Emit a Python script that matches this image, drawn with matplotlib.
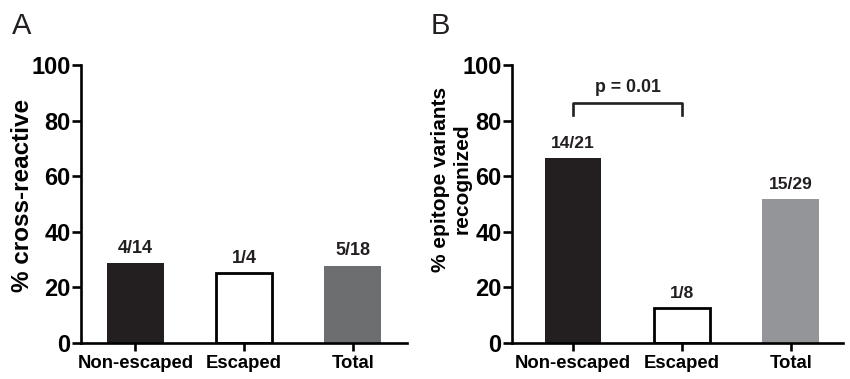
import numpy as np
import matplotlib.pyplot as plt

# ===== data =====
categories = ["Non-escaped", "Escaped", "Total"]

a_values = [28.6, 25.0, 27.8]
a_labels = ["4/14", "1/4", "5/18"]

b_values = [66.7, 12.5, 51.7]
b_labels = ["14/21", "1/8", "15/29"]

yticks = [0, 20, 40, 60, 80, 100]

plt.rcParams.update({
    "font.family": ["Liberation Sans", "DejaVu Sans"],
    "font.weight": "bold",
    "axes.linewidth": 1.9,
})

fig = plt.figure(figsize=(8.5, 3.79), dpi=100)
axA = fig.add_axes([0.0953, 0.095, 0.3835, 0.7335])
axB = fig.add_axes([0.6024, 0.095, 0.3894, 0.7335])


def draw_panel(ax, values, labels, colors, ylabel, xlim, ysize, lsize, lab_xy):
    x = np.arange(len(categories))
    ax.bar(x, values, width=0.52, color=colors, edgecolor=["none", "black", "none"],
           linewidth=2.0)
    for xi, v, lab in zip(x, values, labels):
        ax.annotate(lab, (xi, v), xytext=(0, 5), textcoords="offset points",
                    ha="center", va="bottom", fontsize=lsize, fontweight="bold",
                    color="#231f20")
    ax.set_xlim(*xlim)
    ax.set_ylim(0, 100)
    ax.set_yticks(yticks)
    ax.set_xticks(x)
    ax.set_xticklabels(categories, fontsize=13.3, fontweight="bold")
    ax.tick_params(axis="y", labelsize=17, width=1.9, length=6.5, pad=1)
    ax.tick_params(axis="x", width=1.9, length=6, pad=3)
    for lab in ax.get_yticklabels():
        lab.set_fontweight("bold")
    ax.spines["top"].set_visible(False)
    ax.spines["right"].set_visible(False)
    ax.set_ylabel(ylabel, fontsize=ysize, fontweight="bold")
    ax.yaxis.set_label_coords(*lab_xy)


draw_panel(axA, a_values, a_labels, ["#231f20", "white", "#6d6e70"],
           "% cross-reactive", (-0.5, 2.5), 17.5, 13, (-0.144, 0.532))
draw_panel(axB, b_values, b_labels, ["#231f20", "white", "#939598"],
           "% epitope variants\nrecognized", (-0.56, 2.48), 15, 12.5, (-0.121, 0.59))

# significance bracket
bx = [0, 0, 1, 1]
by = [82, 86.3, 86.3, 82]
axB.plot(bx, by, color="#231f20", lw=1.9, clip_on=False)
axB.text(0.5, 89, "p = 0.01", ha="center", va="bottom", fontsize=12.8,
         fontweight="bold", color="#231f20")

fig.text(0.014, 0.91, "A", fontsize=21, fontweight="normal", color="#231f20")
fig.text(0.507, 0.91, "B", fontsize=21, fontweight="normal", color="#231f20")

fig.savefig("out.png", dpi=100)
